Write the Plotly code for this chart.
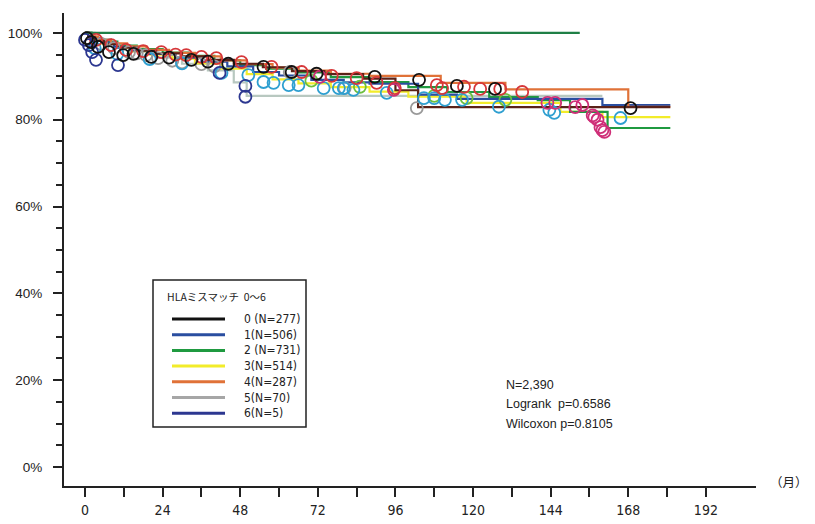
import plotly.graph_objects as go

# ---------------- data (months, survival %) ----------------
group_labels = ["0 (N=277)", "1(N=506)", "2 (N=731)", "3(N=514)", "4(N=287)", "5(N=70)", "6(N=5)"]
legend_title = "HLAミスマッチ  0～6"

g0_t = [0, 1, 3, 6, 10, 16, 22, 30, 38, 46, 55, 64, 74, 86, 96, 103]
g0_s = [100, 99.0, 98.2, 97.4, 96.6, 95.9, 95.3, 94.6, 93.8, 92.9, 92.1, 91.2, 90.5, 89.5, 86.8, 82.9]
g0_end = 181

g1_t = [0, 2, 5, 9, 14, 20, 28, 36, 44, 52, 60, 70, 80, 88, 103, 115, 160]
g1_s = [100, 98.8, 97.8, 96.8, 96.0, 95.2, 94.3, 93.4, 92.3, 91.0, 90.2, 89.2, 88.6, 88.3, 85.8, 84.8, 83.4]
g1_end = 181

g2_t = [0, 2, 5, 10, 16, 24, 32, 40, 48, 56, 66, 76, 88, 100, 112, 125, 140, 150, 161.6]
g2_s = [100, 98.9, 98.0, 97.1, 96.3, 95.5, 94.7, 93.7, 92.6, 91.8, 90.9, 89.8, 88.7, 87.5, 86.4, 85.2, 84.5, 81.8, 78.1]
g2_end = 181

g3_t = [0, 2, 5, 9, 14, 20, 27, 34, 42, 50, 58, 66, 76, 88, 100, 118, 147, 160]
g3_s = [100, 98.7, 97.6, 96.7, 95.8, 95.0, 94.1, 93.0, 91.8, 90.5, 89.3, 88.4, 87.5, 86.5, 85.3, 83.9, 81.8, 80.6]
g3_end = 181

g4_t = [0, 1, 4, 8, 13, 19, 26, 34, 42, 50, 58, 66, 76, 88, 110, 130, 168]
g4_s = [100, 99.2, 98.4, 97.6, 96.9, 96.1, 95.4, 94.6, 93.7, 92.8, 92.0, 91.3, 90.6, 90.1, 88.5, 87.0, 83.0]
g4_end = 181

g5_t = [0, 3, 8, 14, 22, 30, 38, 46, 50]
g5_s = [100, 98.6, 97.1, 95.7, 94.3, 92.9, 91.4, 88.6, 85.5]
g5_end = 160

g6_t = [0]
g6_s = [100]
g6_end = 153

# censored observations (month, survival %)
c0_t = [0.6, 1.9, 4, 7.4, 11.8, 15, 20.5, 26, 32.9, 38, 44.3, 55.2, 63.9, 71.6, 89.6, 103.3, 115, 126.8, 168.7]
c0_s = [98.8, 97.9, 96.8, 95.6, 94.9, 95.2, 94.5, 94.3, 93.8, 93.4, 92.9, 92.2, 91.0, 90.6, 89.9, 89.2, 87.8, 87.1, 82.7]

c1_t = [3, 10, 20, 30, 42.2, 50.5, 55.2, 58.3, 63, 66, 73.8, 78.5, 80, 83, 93.3, 104.8, 108, 111.3, 116.6, 128, 143.6, 145.1, 165.6]
c1_s = [96.5, 95.2, 94.0, 93.0, 90.8, 90.3, 88.7, 88.5, 88.0, 88.0, 87.3, 87.3, 87.3, 86.9, 86.2, 85.0, 85.0, 84.6, 84.6, 83.0, 82.3, 81.6, 80.4]

c2_t = [72.6, 95.5, 143, 145.4, 151.6, 153.8, 157, 157.5, 158.5, 159.4, 160, 160.6]
c2_s = [89.9, 86.9, 83.9, 83.9, 82.9, 83.4, 81.0, 80.6, 80.0, 78.3, 77.6, 77.2]

c3_t = [70, 85, 108, 118, 130]
c3_s = [89.0, 87.6, 85.5, 85.0, 84.6]

c4_t = [3.4, 8.1, 12.7, 18, 23.6, 28, 31.3, 36, 40.6, 48.4, 57.7, 67, 76.3, 84, 90.2, 95.8, 108.8, 110.4, 117.2, 122.2, 128.4, 135.2]
c4_s = [98.4, 97.2, 96.1, 95.8, 95.6, 95.0, 94.9, 94.5, 94.2, 93.3, 92.2, 91.0, 90.1, 89.6, 88.5, 87.3, 88.0, 87.3, 87.6, 87.1, 87.1, 86.4]

c5_t = [5, 9, 13.6, 16, 18.9, 22.6, 27, 30, 36, 40, 63.3, 80.3, 102.6]
c5_s = [97.5, 96.5, 95.6, 95.3, 94.9, 94.2, 93.6, 93.2, 92.8, 92.3, 91.0, 87.3, 82.7]

c6_t = [0, 1.2, 2.2, 3.4, 10.2, 41.6, 49.6, 49.6]
c6_s = [98.4, 97.2, 95.6, 93.8, 92.6, 90.8, 87.8, 85.3]

x_tickvals = list(range(0, 193, 12))
x_ticklabels = [str(v) if v % 24 == 0 else "" for v in x_tickvals]
y_tickvals = [0, 20, 40, 60, 80, 100]
y_ticklabels = ["0%", "20%", "40%", "60%", "80%", "100%"]

stats_lines = ["N=2,390", "Logrank  p=0.6586", "Wilcoxon p=0.8105"]

# ---------------- styles ----------------
legend_colors = ["#111111", "#2a4ea0", "#1f9a40", "#f2ec2a", "#e07238", "#a6a6a6", "#2c3790"]
curve_colors = ["#5a2218", "#2a4ea0", "#1f9a40", "#f2ec2a", "#e07238", "#b8c8c0", "#1f7f46"]
marker_colors = ["#111111", "#2e9fd0", "#cf2f78", "#6cbf3e", "#d6373a", "#9a9a9a", "#2c3790"]

curves = [(g0_t, g0_s, g0_end), (g1_t, g1_s, g1_end), (g2_t, g2_s, g2_end), (g3_t, g3_s, g3_end),
          (g4_t, g4_s, g4_end), (g5_t, g5_s, g5_end), (g6_t, g6_s, g6_end)]
censors = [(c0_t, c0_s), (c1_t, c1_s), (c2_t, c2_s), (c3_t, c3_s), (c4_t, c4_s), (c5_t, c5_s), (c6_t, c6_s)]

# the page body has an 8px margin; the figure is sized to fit the 815x524 window
OX, OY = 8, 8
W, H = 815 - OX, 524 - OY
L, R, T, B = 56, 59, 5, 38
pw, ph = W - L - R, H - T - B

def px(x):  # window pixel -> paper x
    return (x - OX - L) / pw

def py(y):  # window pixel -> paper y
    return (OY + T + ph - y) / ph

fig = go.Figure()

draw_order = [5, 3, 2, 1, 4, 0, 6]
for i in draw_order:
    t, s, end = curves[i]
    fig.add_trace(go.Scatter(x=list(t) + [end], y=list(s) + [s[-1]], mode="lines",
                             line=dict(color=curve_colors[i], width=2.2, shape="hv"),
                             showlegend=False, hoverinfo="skip"))

for i in [3, 5, 1, 2, 4, 6, 0]:
    t, s = censors[i]
    fig.add_trace(go.Scatter(x=t, y=s, mode="markers",
                             marker=dict(symbol="circle-open", size=12, color=marker_colors[i],
                                         line=dict(width=1.8, color=marker_colors[i])),
                             showlegend=False, hoverinfo="skip"))

shapes = []
annotations = []

# legend box
shapes.append(dict(type="rect", xref="paper", yref="paper", x0=px(153), x1=px(306), y0=py(427), y1=py(280),
                   line=dict(color="#222222", width=1.5), fillcolor="rgba(255,255,255,0)"))
annotations.append(dict(xref="paper", yref="paper", x=px(165), y=py(296), text=legend_title, showarrow=False,
                        xanchor="left", yanchor="middle",
                        font=dict(family="Noto Sans CJK JP, Liberation Sans", size=10.5, color="#222222")))
for k, lab in enumerate(group_labels):
    yy = 319 + k * 15.7
    shapes.append(dict(type="line", xref="paper", yref="paper", x0=px(172), x1=px(225), y0=py(yy), y1=py(yy),
                       line=dict(color=legend_colors[k], width=3)))
    annotations.append(dict(xref="paper", yref="paper", x=px(242), y=py(yy), text=lab, showarrow=False,
                            xanchor="left", yanchor="middle",
                            font=dict(family="Liberation Sans Narrow, DejaVu Sans Condensed, Liberation Sans",
                                      size=12, color="#222222")))

for k, line in enumerate(stats_lines):
    annotations.append(dict(xref="paper", yref="paper", x=px(504), y=py(385 + k * 19.5), text=line,
                            showarrow=False, xanchor="left", yanchor="middle",
                            font=dict(family="Liberation Sans, Arial", size=12.5, color="#222222")))

annotations.append(dict(xref="paper", yref="paper", x=px(810), y=py(481), text="（月）", showarrow=False,
                        xanchor="right", yanchor="middle",
                        font=dict(family="Noto Sans CJK JP, Liberation Sans", size=12.5, color="#222222")))

fig.update_layout(
    width=W, height=H,
    margin=dict(l=L, r=R, t=T, b=B, pad=0, autoexpand=False),
    paper_bgcolor="white", plot_bgcolor="white",
    shapes=shapes, annotations=annotations,
    showlegend=False,
    xaxis=dict(range=[-6.5, 207.5], tickvals=x_tickvals, ticktext=x_ticklabels, automargin=False,
               showgrid=False, zeroline=False, showline=True, linecolor="#222222", linewidth=2,
               ticks="outside", ticklen=9, tickwidth=1.8, tickcolor="#222222",
               tickfont=dict(family="Liberation Sans Narrow, DejaVu Sans Condensed, Liberation Sans",
                             size=14, color="#222222"),
               ticklabelstandoff=1),
    yaxis=dict(range=[-4.4, 104.6], tickvals=y_tickvals, ticktext=y_ticklabels, automargin=False,
               showgrid=False, zeroline=False, showline=True, linecolor="#222222", linewidth=2,
               ticks="outside", ticklen=9, tickwidth=1.8, tickcolor="#222222",
               tickfont=dict(family="Liberation Sans, Arial", size=13.5, color="#222222"),
               ticklabelstandoff=8,
               minor=dict(dtick=5, tick0=0, ticks="outside", ticklen=6, tickwidth=1.5, tickcolor="#222222")),
)

fig.write_html("out.html")
